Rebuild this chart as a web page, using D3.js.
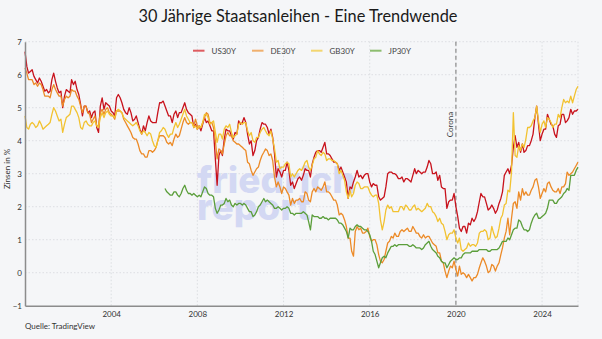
<!DOCTYPE html>
<html>
<head>
<meta charset="utf-8">
<script src="https://cdn.jsdelivr.net/npm/d3@7/dist/d3.min.js"></script>
<style>
  html, body { margin: 0; padding: 0; background: #f5f6f8; }
  svg { display: block; font-family: Lato, "Noto Sans", sans-serif; }
</style>
</head>
<body>
<svg id="chart" width="602" height="339"></svg>
<script>
// Monthly 30-year government bond yields (%), one value per month from the start month
const seriesNames = ["US30Y", "DE30Y", "GB30Y", "JP30Y"];
const seriesColors = ["#c8121c", "#ec8a27", "#f2c230", "#5b9e3b"];
const legendColors = ["#de5c60", "#f0b06e", "#f3d670", "#8dbd6f"];
const startMonths = ["2000-01", "2000-01", "2000-01", "2006-07"];

const us30y = [
  6.70, 6.25, 6.05, 6.10, 6.15, 5.95, 5.85, 5.75, 5.90, 5.80, 5.65, 5.50,
  5.55, 5.45, 5.50, 5.85, 6.05, 5.80, 5.60, 5.45, 5.50, 5.00, 5.35, 5.55,
  5.50, 5.45, 5.85, 5.70, 5.80, 5.55, 5.40, 5.10, 4.75, 5.05, 5.05, 4.85,
  4.90, 4.70, 4.85, 4.90, 4.40, 4.25, 5.05, 5.30, 4.95, 5.15, 5.10, 5.05,
  4.90, 4.85, 4.75, 5.30, 5.40, 5.30, 5.15, 4.95, 4.85, 4.80, 5.00, 4.85,
  4.60, 4.65, 4.75, 4.55, 4.35, 4.20, 4.45, 4.30, 4.55, 4.75, 4.60, 4.55,
  4.55, 4.55, 4.85, 5.15, 5.15, 5.20, 5.05, 4.90, 4.75, 4.75, 4.55, 4.80,
  4.90, 4.70, 4.85, 4.85, 5.00, 5.15, 4.95, 4.85, 4.80, 4.75, 4.40, 4.50,
  4.35, 4.45, 4.30, 4.50, 4.70, 4.55, 4.60, 4.45, 4.30, 4.30, 3.45, 2.65,
  3.55, 3.70, 3.55, 4.05, 4.35, 4.30, 4.30, 4.15, 4.05, 4.25, 4.20, 4.60,
  4.50, 4.55, 4.70, 4.55, 4.20, 3.90, 4.00, 3.55, 3.70, 4.00, 4.10, 4.35,
  4.55, 4.50, 4.50, 4.40, 4.20, 4.35, 4.10, 3.60, 2.90, 3.15, 3.05, 2.90,
  3.10, 3.10, 3.35, 3.10, 2.65, 2.75, 2.55, 2.70, 2.85, 2.90, 2.80, 2.95,
  3.15, 3.10, 3.10, 2.90, 3.30, 3.50, 3.65, 3.70, 3.70, 3.65, 3.80, 3.95,
  3.60, 3.60, 3.55, 3.45, 3.35, 3.35, 3.30, 3.10, 3.20, 3.05, 2.90, 2.75,
  2.25, 2.60, 2.55, 2.75, 2.90, 3.10, 2.90, 2.95, 2.85, 2.95, 3.00, 3.00,
  2.75, 2.60, 2.70, 2.65, 2.65, 2.30, 2.20, 2.25, 2.30, 2.60, 3.00, 3.05,
  3.05, 3.00, 3.00, 2.95, 2.85, 2.85, 2.90, 2.75, 2.85, 2.85, 2.80, 2.75,
  2.95, 3.15, 3.00, 3.10, 3.05, 3.00, 3.05, 3.05, 3.20, 3.40, 3.30, 3.00,
  3.00, 3.05, 2.80, 2.95, 2.60, 2.55, 2.55, 1.95, 2.15, 2.20, 2.20, 2.40,
  2.00, 1.70, 1.35, 1.25, 1.40, 1.40, 1.20, 1.50, 1.45, 1.65, 1.55, 1.65,
  1.85, 2.15, 2.40, 2.30, 2.30, 2.10, 1.90, 1.95, 2.05, 1.95, 1.80, 1.90,
  2.10, 2.25, 2.45, 2.95, 3.05, 3.15, 3.00, 3.25, 3.80, 4.15, 3.80, 3.95,
  3.65, 3.90, 3.65, 3.70, 3.85, 3.85, 4.00, 4.20, 4.70, 5.05, 4.50, 4.00,
  4.20, 4.35, 4.35, 4.80, 4.65, 4.50, 4.45, 4.20, 4.10, 4.45, 4.50, 4.80,
  4.80, 4.55, 4.60, 4.70, 4.95, 4.80, 4.90, 4.90, 4.95
];

const de30y = [
  6.20, 6.05, 5.85, 5.85, 5.85, 5.70, 5.75, 5.65, 5.75, 5.70, 5.55, 5.35,
  5.35, 5.35, 5.30, 5.55, 5.70, 5.55, 5.45, 5.35, 5.35, 5.05, 5.25, 5.35,
  5.30, 5.35, 5.55, 5.50, 5.50, 5.35, 5.25, 5.05, 4.85, 5.05, 5.05, 4.85,
  4.80, 4.55, 4.65, 4.75, 4.45, 4.45, 4.85, 4.95, 4.80, 4.95, 5.00, 4.85,
  4.80, 4.75, 4.65, 4.90, 4.90, 4.90, 4.85, 4.65, 4.55, 4.45, 4.35, 4.25,
  4.10, 4.05, 4.05, 3.90, 3.70, 3.60, 3.60, 3.50, 3.50, 3.70, 3.70, 3.65,
  3.70, 3.80, 4.00, 4.15, 4.15, 4.15, 4.10, 3.95, 3.90, 3.95, 3.85, 4.05,
  4.20, 4.10, 4.15, 4.35, 4.55, 4.70, 4.55, 4.50, 4.55, 4.55, 4.45, 4.65,
  4.45, 4.40, 4.40, 4.55, 4.70, 4.85, 4.80, 4.55, 4.55, 4.40, 4.00, 3.45,
  3.75, 3.70, 3.60, 3.90, 4.15, 4.25, 4.15, 4.15, 4.00, 3.95, 3.90, 3.90,
  3.85, 3.80, 3.75, 3.70, 3.35, 3.30, 3.10, 2.95, 3.05, 3.15, 3.20, 3.40,
  3.55, 3.65, 3.75, 3.70, 3.55, 3.60, 3.40, 2.90, 2.60, 2.75, 2.60, 2.40,
  2.60, 2.55, 2.45, 2.35, 2.05, 2.25, 2.10, 2.20, 2.20, 2.25, 2.15, 2.15,
  2.45, 2.40, 2.20, 2.15, 2.45, 2.55, 2.45, 2.60, 2.55, 2.50, 2.60, 2.75,
  2.45, 2.45, 2.40, 2.30, 2.20, 2.20, 2.05, 1.75, 1.80, 1.75, 1.60, 1.40,
  1.05, 1.05, 0.65, 0.50, 1.25, 1.40, 1.30, 1.35, 1.20, 1.20, 1.25, 1.35,
  1.10, 0.95, 1.00, 1.00, 0.85, 0.55, 0.35, 0.30, 0.40, 0.65, 0.90, 0.95,
  1.10, 1.05, 1.20, 1.10, 1.10, 1.25, 1.30, 1.25, 1.30, 1.35, 1.25, 1.25,
  1.40, 1.30, 1.20, 1.20, 1.10, 1.05, 1.15, 1.05, 1.10, 1.10, 1.00, 0.90,
  0.85, 0.80, 0.60, 0.60, 0.35, 0.30, 0.05, -0.15, 0.05, 0.20, 0.15, 0.35,
  0.10, -0.10, 0.20, -0.05, 0.00, -0.05, -0.15, -0.05, -0.15, -0.25, -0.15, -0.15,
  -0.05, 0.15, 0.30, 0.45, 0.35, 0.20, 0.00, 0.05, 0.25, 0.20, 0.05, 0.20,
  0.30, 0.55, 0.75, 1.05, 1.25, 1.65, 1.15, 1.65, 2.10, 2.15, 1.95, 2.45,
  2.20, 2.55, 2.35, 2.45, 2.35, 2.35, 2.50, 2.60, 2.80, 2.85, 2.60, 2.25,
  2.40, 2.55, 2.45, 2.70, 2.75, 2.60, 2.50, 2.45, 2.45, 2.55, 2.40, 2.60,
  2.60, 2.70, 3.05, 2.95, 3.00, 3.05, 3.15, 3.25, 3.35
];

const gb30y = [
  4.75, 4.40, 4.35, 4.50, 4.55, 4.50, 4.40, 4.45, 4.60, 4.50, 4.35, 4.40,
  4.45, 4.50, 4.55, 4.80, 5.00, 4.90, 4.75, 4.60, 4.65, 4.25, 4.50, 4.70,
  4.75, 4.80, 5.05, 5.05, 4.95, 4.85, 4.70, 4.40, 4.35, 4.55, 4.60, 4.50,
  4.45, 4.45, 4.55, 4.60, 4.45, 4.40, 4.70, 4.85, 4.70, 4.85, 4.90, 4.80,
  4.75, 4.75, 4.70, 4.90, 4.95, 4.90, 4.85, 4.70, 4.65, 4.60, 4.55, 4.50,
  4.45, 4.50, 4.55, 4.45, 4.30, 4.20, 4.30, 4.25, 4.15, 4.25, 4.20, 4.00,
  3.85, 3.80, 4.00, 4.25, 4.30, 4.40, 4.35, 4.20, 4.10, 4.20, 4.20, 4.40,
  4.55, 4.40, 4.50, 4.65, 4.80, 4.95, 4.75, 4.65, 4.55, 4.55, 4.40, 4.45,
  4.35, 4.45, 4.40, 4.55, 4.80, 4.80, 4.70, 4.50, 4.55, 4.60, 4.25, 3.95,
  4.20, 4.20, 4.05, 4.35, 4.45, 4.40, 4.50, 4.25, 4.10, 4.15, 4.20, 4.50,
  4.55, 4.50, 4.55, 4.55, 4.30, 4.15, 4.25, 4.00, 3.95, 4.10, 4.10, 4.25,
  4.35, 4.40, 4.30, 4.20, 4.15, 4.30, 4.05, 3.75, 3.35, 3.40, 3.15, 3.20,
  3.20, 3.30, 3.35, 3.30, 2.90, 3.00, 2.90, 3.00, 3.10, 3.15, 3.10, 3.20,
  3.35, 3.40, 3.20, 3.10, 3.25, 3.45, 3.50, 3.70, 3.60, 3.55, 3.65, 3.60,
  3.40, 3.45, 3.45, 3.40, 3.40, 3.35, 3.30, 3.00, 3.10, 2.95, 2.80, 2.45,
  2.25, 2.50, 2.30, 2.40, 2.65, 2.75, 2.70, 2.55, 2.55, 2.60, 2.60, 2.60,
  2.45, 2.35, 2.30, 2.35, 2.35, 2.10, 1.60, 1.30, 1.55, 1.90, 2.05, 1.95,
  2.00, 1.85, 1.85, 1.85, 1.85, 2.00, 2.00, 1.90, 2.05, 2.00, 1.90, 1.90,
  2.00, 2.05, 1.90, 1.95, 1.90, 1.85, 1.90, 1.95, 2.10, 2.00, 2.00, 1.85,
  1.80, 1.70, 1.55, 1.65, 1.50, 1.45, 1.25, 1.00, 1.15, 1.20, 1.20, 1.30,
  1.05, 0.90, 1.05, 0.70, 0.65, 0.70, 0.75, 0.90, 0.80, 0.85, 0.85, 0.80,
  0.90, 1.20, 1.25, 1.25, 1.30, 1.25, 1.00, 1.05, 1.40, 1.20, 1.05, 1.10,
  1.35, 1.65, 1.75, 2.05, 2.10, 2.50, 2.45, 3.05, 4.85, 3.55, 3.50, 3.85,
  3.70, 3.90, 3.80, 4.05, 4.40, 4.40, 4.45, 4.60, 4.70, 5.05, 4.60, 4.25,
  4.50, 4.60, 4.40, 4.70, 4.65, 4.55, 4.40, 4.50, 4.50, 4.80, 4.70, 5.00,
  5.25, 5.15, 5.20, 5.15, 5.35, 5.15, 5.35, 5.55, 5.65
];

const jp30y = [
  2.55, 2.45, 2.40, 2.35, 2.35, 2.45,
  2.45, 2.35, 2.30, 2.40, 2.55, 2.65, 2.50, 2.40, 2.40, 2.35, 2.40, 2.35,
  2.30, 2.35, 2.30, 2.45, 2.60, 2.55, 2.40, 2.35, 2.35, 2.30, 1.95, 1.80,
  1.90, 2.05, 2.05, 2.10, 2.25, 2.15, 2.20, 2.05, 2.00, 2.10, 2.05, 2.10,
  2.10, 2.05, 2.10, 2.05, 1.95, 1.85, 1.85, 1.70, 1.75, 1.85, 2.00, 2.05,
  2.15, 2.25, 2.15, 2.20, 2.15, 2.10, 2.05, 1.95, 1.95, 2.00, 1.95, 1.90,
  1.95, 1.95, 2.00, 1.95, 1.80, 1.80, 1.75, 1.80, 1.80, 1.80, 1.80, 1.85,
  1.80, 1.75, 1.55, 1.30, 1.75, 1.70, 1.70, 1.70, 1.65, 1.65, 1.70, 1.65,
  1.65, 1.60, 1.65, 1.65, 1.65, 1.65, 1.60, 1.50, 1.50, 1.45, 1.35, 1.25,
  1.05, 1.35, 1.30, 1.30, 1.40, 1.45, 1.40, 1.40, 1.35, 1.30, 1.30, 1.25,
  1.15, 0.95, 0.65, 0.55, 0.35, 0.15, 0.30, 0.45, 0.50, 0.45, 0.60, 0.70,
  0.80, 0.80, 0.85, 0.80, 0.85, 0.85, 0.85, 0.85, 0.85, 0.85, 0.80, 0.80,
  0.85, 0.80, 0.75, 0.75, 0.75, 0.70, 0.75, 0.85, 0.90, 0.95, 0.80, 0.70,
  0.65, 0.60, 0.50, 0.45, 0.35, 0.30, 0.30, 0.15, 0.25, 0.35, 0.40, 0.45,
  0.40, 0.40, 0.45, 0.45, 0.55, 0.60, 0.60, 0.60, 0.60, 0.65, 0.65, 0.65,
  0.65, 0.70, 0.70, 0.70, 0.70, 0.70, 0.65, 0.65, 0.70, 0.70, 0.70, 0.70,
  0.75, 0.85, 0.95, 0.95, 0.95, 1.05, 1.00, 1.15, 1.30, 1.35, 1.35, 1.60,
  1.55, 1.40, 1.30, 1.30, 1.25, 1.30, 1.50, 1.65, 1.75, 1.80, 1.65, 1.65,
  1.70, 1.75, 1.80, 1.95, 2.20, 2.20, 2.20, 2.10, 2.10, 2.20, 2.25, 2.30,
  2.40, 2.45, 2.55, 2.50, 2.95, 2.95, 2.95, 3.10, 3.20
];

const yTicks = [-1, 0, 1, 2, 3, 4, 5, 6, 7];
const xTickYears = [2004, 2008, 2012, 2016, 2020, 2024];
const coronaDate = "2020-01-01";

const titleText = "30 Jährige Staatsanleihen - Eine Trendwende";
const yAxisLabel = "Zinsen in %";
const sourceText = "Quelle: TradingView";
const markerText = "Corona";
const watermarkLines = ["friedrich", "report"];

// ---- layout ----
const svg = d3.select("#chart");
const W = 602, H = 339;
const plot = { left: 25, right: 578, top: 41.7, bottom: 305.7 };

svg.append("rect").attr("width", W).attr("height", H).attr("fill", "#f5f6f8");

const parseMonth = d3.timeParse("%Y-%m");
const x = d3.scaleTime()
  .domain([new Date(2000, 0, 1), new Date(2025, 8, 1)])
  .range([plot.left, plot.right]);
const y = d3.scaleLinear().domain([-1, 7]).range([plot.bottom, plot.top]);

const allSeries = [us30y, de30y, gb30y, jp30y].map((vals, i) => {
  const start = parseMonth(startMonths[i]);
  return {
    name: seriesNames[i],
    color: seriesColors[i],
    points: vals.map((v, k) => ({ date: d3.timeMonth.offset(start, k), value: v }))
  };
});

// title
svg.append("text")
  .attr("x", 298).attr("y", 22)
  .attr("text-anchor", "middle")
  .attr("font-size", 17)
  .attr("textLength", 319)
  .attr("lengthAdjust", "spacingAndGlyphs")
  .attr("fill", "#1a1a1a")
  .text(titleText);

// gridlines
const grid = svg.append("g").attr("stroke", "#d6d8dc").attr("stroke-width", 0.8).attr("stroke-dasharray", "1.5,2");
grid.selectAll("line.h").data(yTicks.filter(t => t > -1)).join("line")
  .attr("x1", plot.left).attr("x2", plot.right)
  .attr("y1", d => y(d)).attr("y2", d => y(d));
grid.selectAll("line.v").data(xTickYears).join("line")
  .attr("x1", d => x(new Date(d, 0, 1))).attr("x2", d => x(new Date(d, 0, 1)))
  .attr("y1", plot.top).attr("y2", plot.bottom);
grid.append("line")
  .attr("x1", plot.right).attr("x2", plot.right)
  .attr("y1", plot.top).attr("y2", plot.bottom);

// watermark (one text block, two tightly stacked lines)
svg.append("text")
  .attr("font-family", "Inter, 'Open Sans', sans-serif")
  .attr("font-weight", 800)
  .attr("font-size", 37)
  .attr("fill", "#d3d8f3")
  .selectAll("tspan").data(watermarkLines).join("tspan")
  .attr("x", 197)
  .attr("y", (d, i) => 193 + i * 27)
  .text(d => d);

// corona marker
const cx = x(new Date(coronaDate));
svg.append("line")
  .attr("x1", cx).attr("x2", cx)
  .attr("y1", plot.top).attr("y2", plot.bottom)
  .attr("stroke", "#8a8a8a").attr("stroke-width", 1.2).attr("stroke-dasharray", "4,3");
svg.append("text")
  .attr("transform", `translate(${cx - 3},124.5) rotate(-90)`)
  .attr("text-anchor", "middle")
  .attr("font-size", 8)
  .attr("fill", "#444")
  .text(markerText);

// series lines
const line = d3.line().x(d => x(d.date)).y(d => y(d.value));
svg.append("g").selectAll("path").data(allSeries).join("path")
  .attr("d", d => line(d.points))
  .attr("fill", "none")
  .attr("stroke", d => d.color)
  .attr("stroke-width", 1.3)
  .attr("stroke-linejoin", "round");

// axes
const xAxis = d3.axisBottom(x)
  .tickValues(xTickYears.map(yy => new Date(yy, 0, 1)))
  .tickFormat(d3.timeFormat("%Y"))
  .tickSize(0).tickPadding(6);
const gx = svg.append("g").attr("transform", `translate(0,${plot.bottom})`).call(xAxis);
gx.select(".domain").attr("stroke", "#8c8c8c").attr("stroke-width", 1.5);
gx.selectAll("text").attr("font-size", 8).attr("fill", "#333").attr("font-family", "Lato, sans-serif");

const yAxis = d3.axisLeft(y).tickValues(yTicks).tickFormat(d3.format("d")).tickSize(0).tickPadding(3);
const gy = svg.append("g").attr("transform", `translate(${plot.left},0)`).call(yAxis);
gy.select(".domain").attr("stroke", "#8c8c8c").attr("stroke-width", 1.5);
gy.selectAll("text").attr("font-size", 8).attr("fill", "#333").attr("font-family", "Lato, sans-serif");

svg.append("text")
  .attr("transform", "translate(10,169) rotate(-90)")
  .attr("text-anchor", "middle")
  .attr("font-size", 8)
  .attr("fill", "#333")
  .text(yAxisLabel);

// legend
const legendX = [193, 252, 311, 370];
const lg = svg.append("g").selectAll("g").data(seriesNames).join("g")
  .attr("transform", (d, i) => `translate(${legendX[i]},50.7)`);
lg.append("line").attr("x1", 0).attr("x2", 11.5).attr("y1", 0).attr("y2", 0)
  .attr("stroke", (d, i) => legendColors[i]).attr("stroke-width", 2);
lg.append("text").attr("x", 18.5).attr("y", 3).attr("font-size", 8).attr("fill", "#444").text(d => d);

// source
svg.append("text")
  .attr("x", 25).attr("y", 329)
  .attr("font-size", 8)
  .attr("fill", "#333")
  .text(sourceText);
</script>
</body>
</html>
